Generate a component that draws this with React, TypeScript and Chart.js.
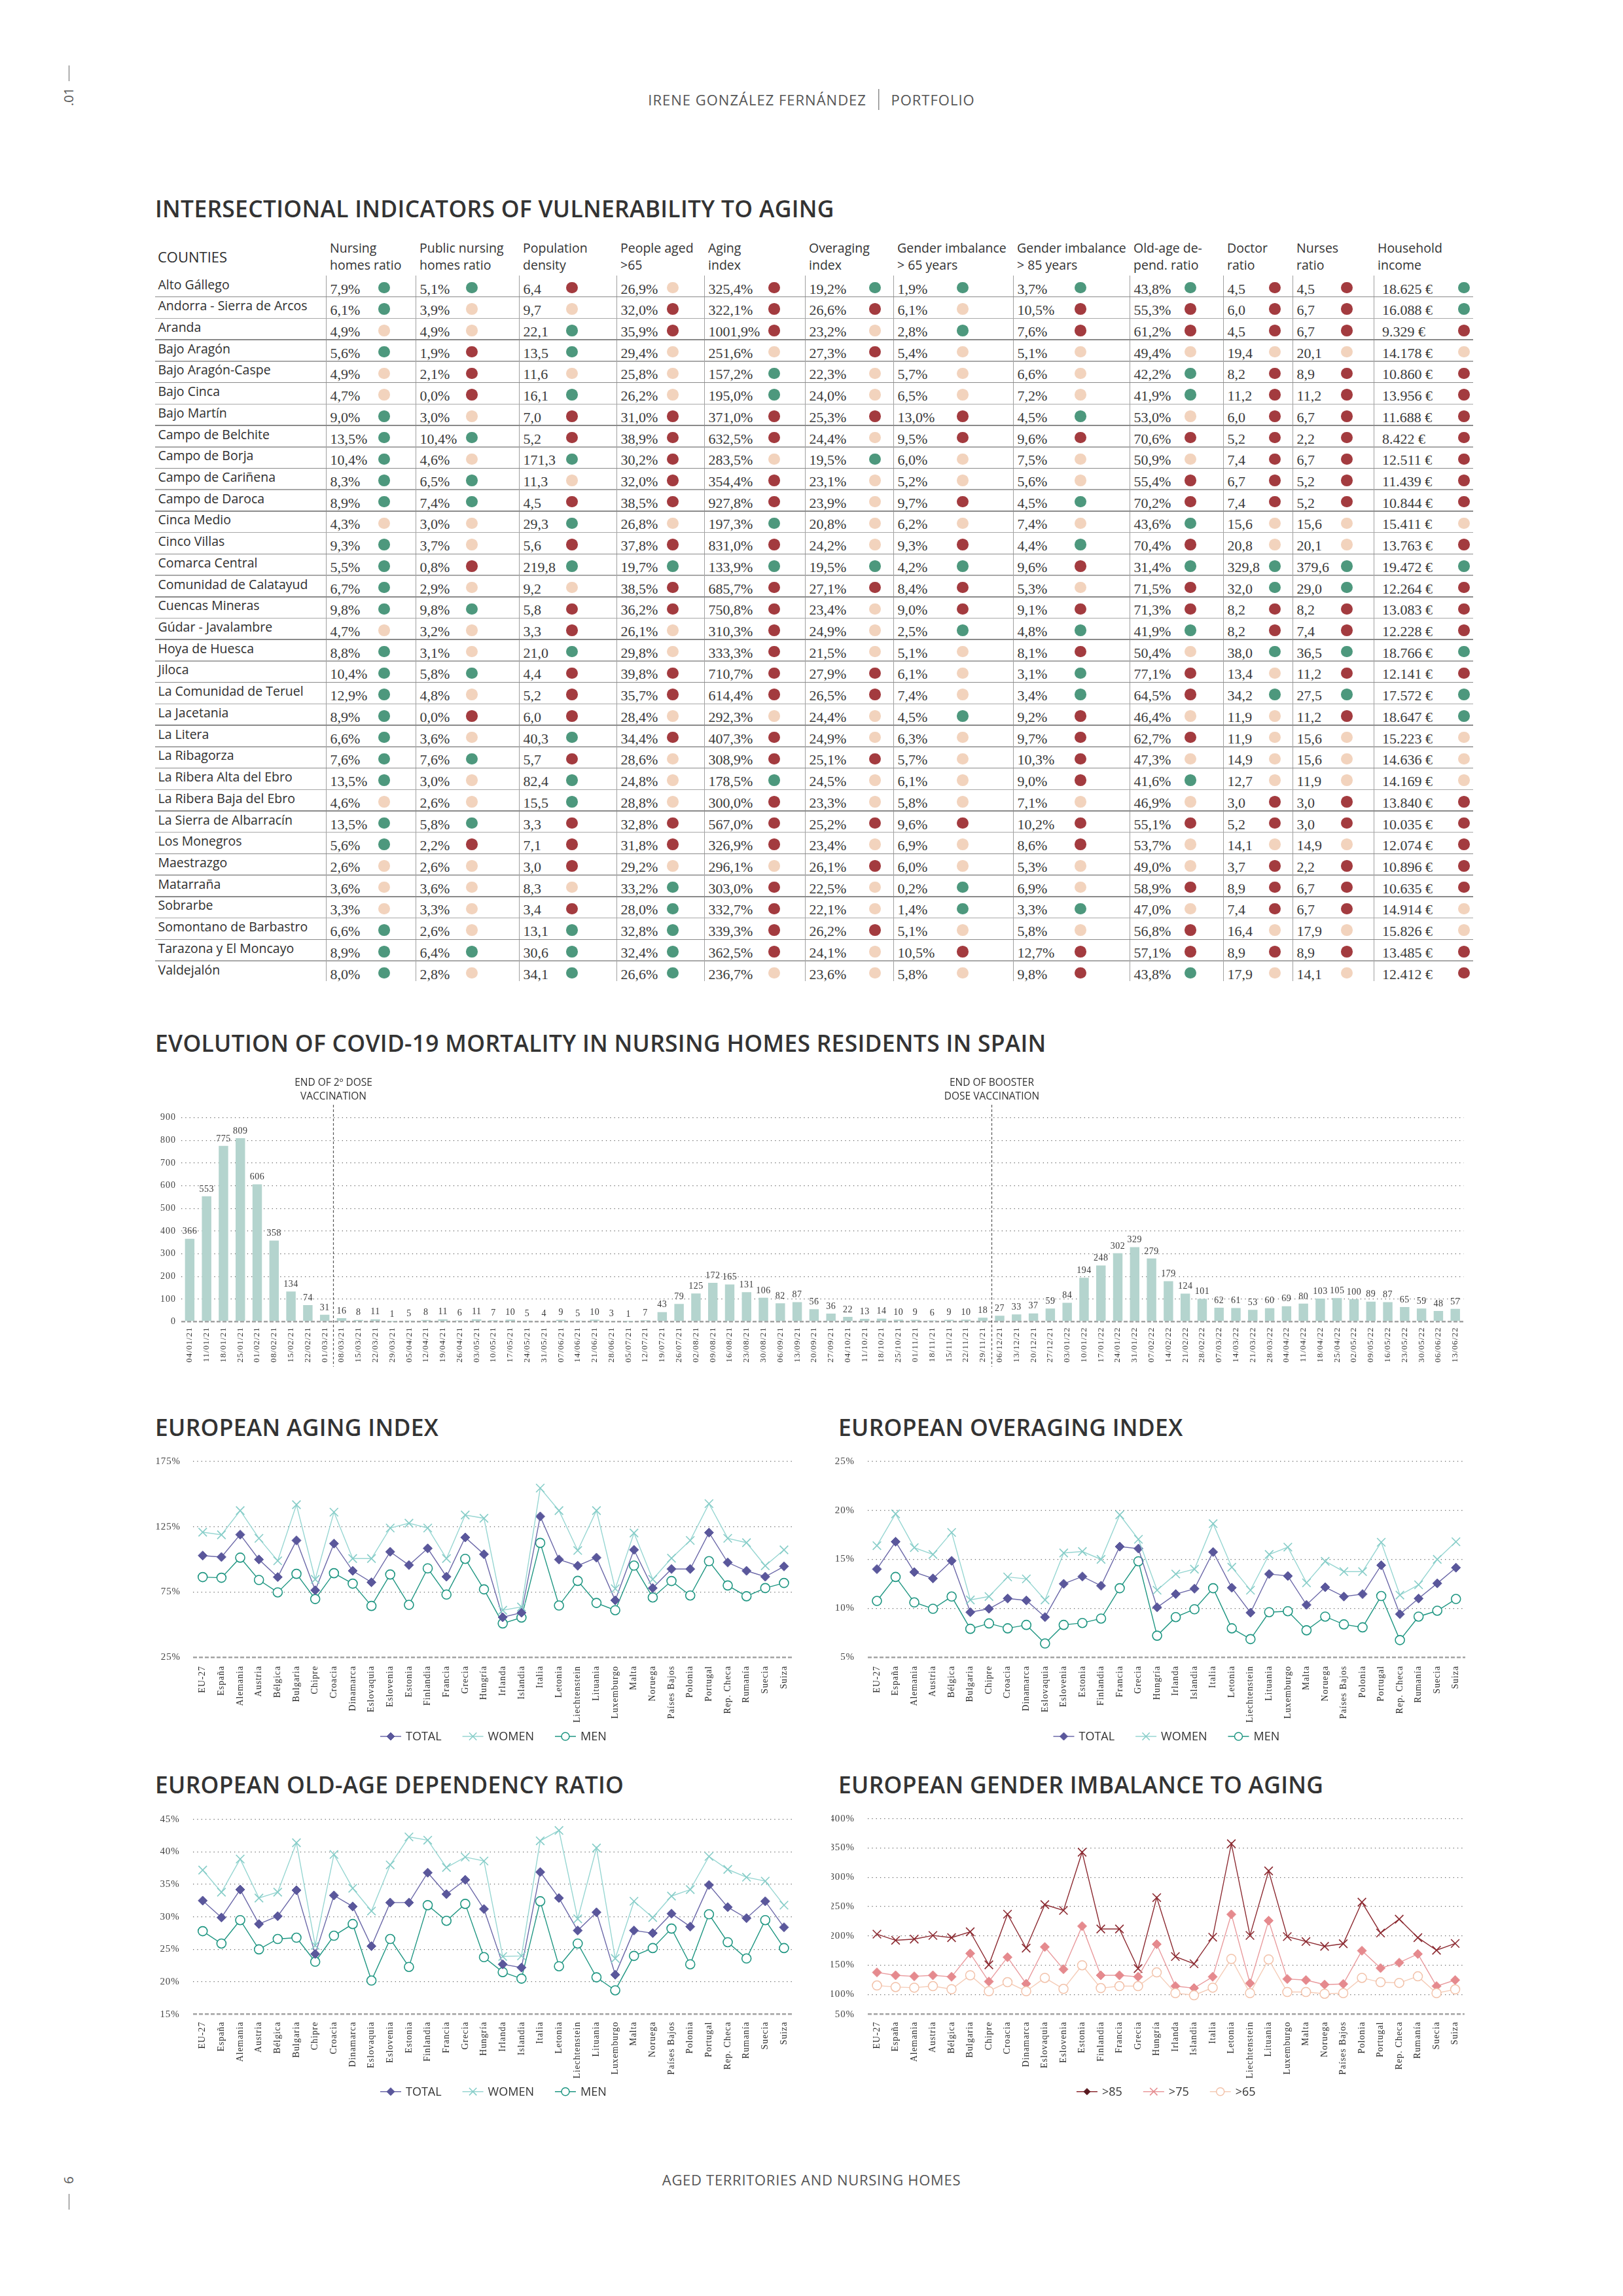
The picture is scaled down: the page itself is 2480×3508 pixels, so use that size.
import React, { useEffect, useRef } from "react";
import { Chart, registerables } from "chart.js";

Chart.register(...registerables);

const SERIF = "'Liberation Serif', 'Times New Roman', serif";
const SANS = "'Open Sans', 'Noto Sans', sans-serif";

// ---------------- TABLE DATA ----------------
const counties = [
  "Alto Gállego", "Andorra - Sierra de Arcos", "Aranda", "Bajo Aragón", "Bajo Aragón-Caspe", "Bajo Cinca",
  "Bajo Martín", "Campo de Belchite", "Campo de Borja", "Campo de Cariñena", "Campo de Daroca", "Cinca Medio",
  "Cinco Villas", "Comarca Central", "Comunidad de Calatayud", "Cuencas Mineras", "Gúdar - Javalambre",
  "Hoya de Huesca", "Jiloca", "La Comunidad de Teruel", "La Jacetania", "La Litera", "La Ribagorza",
  "La Ribera Alta del Ebro", "La Ribera Baja del Ebro", "La Sierra de Albarracín", "Los Monegros", "Maestrazgo",
  "Matarraña", "Sobrarbe", "Somontano de Barbastro", "Tarazona y El Moncayo", "Valdejalón",
];
const nursingHomesRatio = ["7,9%", "6,1%", "4,9%", "5,6%", "4,9%", "4,7%", "9,0%", "13,5%", "10,4%", "8,3%", "8,9%", "4,3%", "9,3%", "5,5%", "6,7%", "9,8%", "4,7%", "8,8%", "10,4%", "12,9%", "8,9%", "6,6%", "7,6%", "13,5%", "4,6%", "13,5%", "5,6%", "2,6%", "3,6%", "3,3%", "6,6%", "8,9%", "8,0%"];
const nursingHomesRatioLv = "GGBGBBGGGGGBGGGGBGGGGGGGBGGBBBGGG";
const publicNursingRatio = ["5,1%", "3,9%", "4,9%", "1,9%", "2,1%", "0,0%", "3,0%", "10,4%", "4,6%", "6,5%", "7,4%", "3,0%", "3,7%", "0,8%", "2,9%", "9,8%", "3,2%", "3,1%", "5,8%", "4,8%", "0,0%", "3,6%", "7,6%", "3,0%", "2,6%", "5,8%", "2,2%", "2,6%", "3,6%", "3,3%", "2,6%", "6,4%", "2,8%"];
const publicNursingRatioLv = "GBBRRRBGBGGBBRBGBBGBRBGBBGRBBBBGB";
const populationDensity = ["6,4", "9,7", "22,1", "13,5", "11,6", "16,1", "7,0", "5,2", "171,3", "11,3", "4,5", "29,3", "5,6", "219,8", "9,2", "5,8", "3,3", "21,0", "4,4", "5,2", "6,0", "40,3", "5,7", "82,4", "15,5", "3,3", "7,1", "3,0", "8,3", "3,4", "13,1", "30,6", "34,1"];
const populationDensityLv = "RBGGBGRRGBRGRGBRRGRRRGRGGRRRBRGGG";
const peopleOver65 = ["26,9%", "32,0%", "35,9%", "29,4%", "25,8%", "26,2%", "31,0%", "38,9%", "30,2%", "32,0%", "38,5%", "26,8%", "37,8%", "19,7%", "38,5%", "36,2%", "26,1%", "29,8%", "39,8%", "35,7%", "28,4%", "34,4%", "28,6%", "24,8%", "28,8%", "32,8%", "31,8%", "29,2%", "33,2%", "28,0%", "32,8%", "32,4%", "26,6%"];
const peopleOver65Lv = "BRRBBBRRRRRBRGRRBBRRBRBBBRRBGGGGG";
const agingIndex = ["325,4%", "322,1%", "1001,9%", "251,6%", "157,2%", "195,0%", "371,0%", "632,5%", "283,5%", "354,4%", "927,8%", "197,3%", "831,0%", "133,9%", "685,7%", "750,8%", "310,3%", "333,3%", "710,7%", "614,4%", "292,3%", "407,3%", "308,9%", "178,5%", "300,0%", "567,0%", "326,9%", "296,1%", "303,0%", "332,7%", "339,3%", "362,5%", "236,7%"];
const agingIndexLv = "RRRBGGRRBRRGRGRRRRRRBRRGRRRBRRRRB";
const overagingIndex = ["19,2%", "26,6%", "23,2%", "27,3%", "22,3%", "24,0%", "25,3%", "24,4%", "19,5%", "23,1%", "23,9%", "20,8%", "24,2%", "19,5%", "27,1%", "23,4%", "24,9%", "21,5%", "27,9%", "26,5%", "24,4%", "24,9%", "25,1%", "24,5%", "23,3%", "25,2%", "23,4%", "26,1%", "22,5%", "22,1%", "26,2%", "24,1%", "23,6%"];
const overagingIndexLv = "GRBRBBRBGBBBBGRBBBRRBBRBBRBRBBRBB";
const genderOver65 = ["1,9%", "6,1%", "2,8%", "5,4%", "5,7%", "6,5%", "13,0%", "9,5%", "6,0%", "5,2%", "9,7%", "6,2%", "9,3%", "4,2%", "8,4%", "9,0%", "2,5%", "5,1%", "6,1%", "7,4%", "4,5%", "6,3%", "5,7%", "6,1%", "5,8%", "9,6%", "6,9%", "6,0%", "0,2%", "1,4%", "5,1%", "10,5%", "5,8%"];
const genderOver65Lv = "GBGBBBRRBBRBRGRRGBBBGBBBBRBBGGBRB";
const genderOver85 = ["3,7%", "10,5%", "7,6%", "5,1%", "6,6%", "7,2%", "4,5%", "9,6%", "7,5%", "5,6%", "4,5%", "7,4%", "4,4%", "9,6%", "5,3%", "9,1%", "4,8%", "8,1%", "3,1%", "3,4%", "9,2%", "9,7%", "10,3%", "9,0%", "7,1%", "10,2%", "8,6%", "5,3%", "6,9%", "3,3%", "5,8%", "12,7%", "9,8%"];
const genderOver85Lv = "GRRBBBGRBBGBGRBRGRGGRRRRBRRBBGBRR";
const oldAgeDependency = ["43,8%", "55,3%", "61,2%", "49,4%", "42,2%", "41,9%", "53,0%", "70,6%", "50,9%", "55,4%", "70,2%", "43,6%", "70,4%", "31,4%", "71,5%", "71,3%", "41,9%", "50,4%", "77,1%", "64,5%", "46,4%", "62,7%", "47,3%", "41,6%", "46,9%", "55,1%", "53,7%", "49,0%", "58,9%", "47,0%", "56,8%", "57,1%", "43,8%"];
const oldAgeDependencyLv = "GRRBGGBRBRRGRGRRGBRRBRBGBRBBRBRRG";
const doctorRatio = ["4,5", "6,0", "4,5", "19,4", "8,2", "11,2", "6,0", "5,2", "7,4", "6,7", "7,4", "15,6", "20,8", "329,8", "32,0", "8,2", "8,2", "38,0", "13,4", "34,2", "11,9", "11,9", "14,9", "12,7", "3,0", "5,2", "14,1", "3,7", "8,9", "7,4", "16,4", "8,9", "17,9"];
const doctorRatioLv = "RRRBRRRRRRRBBGGRRGBGBBBBRRBRRRBRB";
const nursesRatio = ["4,5", "6,7", "6,7", "20,1", "8,9", "11,2", "6,7", "2,2", "6,7", "5,2", "5,2", "15,6", "20,1", "379,6", "29,0", "8,2", "7,4", "36,5", "11,2", "27,5", "11,2", "15,6", "15,6", "11,9", "3,0", "3,0", "14,9", "2,2", "6,7", "6,7", "17,9", "8,9", "14,1"];
const nursesRatioLv = "RRRBRRRRRRRBBGGRRGRGRBBBRRBRRRBRB";
const householdIncome = ["18.625 €", "16.088 €", "9.329 €", "14.178 €", "10.860 €", "13.956 €", "11.688 €", "8.422 €", "12.511 €", "11.439 €", "10.844 €", "15.411 €", "13.763 €", "19.472 €", "12.264 €", "13.083 €", "12.228 €", "18.766 €", "12.141 €", "17.572 €", "18.647 €", "15.223 €", "14.636 €", "14.169 €", "13.840 €", "10.035 €", "12.074 €", "10.896 €", "10.635 €", "14.914 €", "15.826 €", "13.485 €", "12.412 €"];
const householdIncomeLv = "GGRBRRRRRRRBRGRRRGRGGBBBRRRRRBBRR";

const tableColumns = [
  { head: ["Nursing", "homes ratio"], values: nursingHomesRatio, levels: nursingHomesRatioLv },
  { head: ["Public nursing", "homes ratio"], values: publicNursingRatio, levels: publicNursingRatioLv },
  { head: ["Population", "density"], values: populationDensity, levels: populationDensityLv },
  { head: ["People aged", ">65"], values: peopleOver65, levels: peopleOver65Lv },
  { head: ["Aging", "index"], values: agingIndex, levels: agingIndexLv },
  { head: ["Overaging", "index"], values: overagingIndex, levels: overagingIndexLv },
  { head: ["Gender imbalance", "> 65 years"], values: genderOver65, levels: genderOver65Lv },
  { head: ["Gender imbalance", "> 85 years"], values: genderOver85, levels: genderOver85Lv },
  { head: ["Old-age de-", "pend. ratio"], values: oldAgeDependency, levels: oldAgeDependencyLv },
  { head: ["Doctor", "ratio"], values: doctorRatio, levels: doctorRatioLv },
  { head: ["Nurses", "ratio"], values: nursesRatio, levels: nursesRatioLv },
  { head: ["Household", "income"], values: householdIncome, levels: householdIncomeLv },
];

// ---------------- BAR CHART DATA ----------------
const weekLabels = [
  "04/01/21", "11/01/21", "18/01/21", "25/01/21", "01/02/21", "08/02/21", "15/02/21", "22/02/21", "01/03/21",
  "08/03/21", "15/03/21", "22/03/21", "29/03/21", "05/04/21", "12/04/21", "19/04/21", "26/04/21", "03/05/21",
  "10/05/21", "17/05/21", "24/05/21", "31/05/21", "07/06/21", "14/06/21", "21/06/21", "28/06/21", "05/07/21",
  "12/07/21", "19/07/21", "26/07/21", "02/08/21", "09/08/21", "16/08/21", "23/08/21", "30/08/21", "06/09/21",
  "13/09/21", "20/09/21", "27/09/21", "04/10/21", "11/10/21", "18/10/21", "25/10/21", "01/11/21", "18/11/21",
  "15/11/21", "22/11/21", "29/11/21", "06/12/21", "13/12/21", "20/12/21", "27/12/21", "03/01/22", "10/01/22",
  "17/01/22", "24/01/22", "31/01/22", "07/02/22", "14/02/22", "21/02/22", "28/02/22", "07/03/22", "14/03/22",
  "21/03/22", "28/03/22", "04/04/22", "11/04/22", "18/04/22", "25/04/22", "02/05/22", "09/05/22", "16/05/22",
  "23/05/22", "30/05/22", "06/06/22", "13/06/22",
];
const weeklyDeaths = [
  366, 553, 775, 809, 606, 358, 134, 74, 31,
  16, 8, 11, 1, 5, 8, 11, 6, 11,
  7, 10, 5, 4, 9, 5, 10, 3, 1,
  7, 43, 79, 125, 172, 165, 131, 106, 82,
  87, 56, 36, 22, 13, 14, 10, 9, 6,
  9, 10, 18, 27, 33, 37, 59, 84, 194,
  248, 302, 329, 279, 179, 124, 101, 62, 61,
  53, 60, 69, 80, 103, 105, 100, 89, 87,
  65, 59, 48, 57,
];
const vaccinationMarks = [
  { after: "01/03/21", text: ["END OF 2º DOSE", "VACCINATION"] },
  { after: "29/11/21", text: ["END OF BOOSTER", "DOSE VACCINATION"] },
];

// ---------------- LINE CHART DATA ----------------
const countries = [
  "EU-27", "España", "Alemania", "Austria", "Bélgica", "Bulgaria", "Chipre", "Croacia", "Dinamarca", "Eslovaquia",
  "Eslovenia", "Estonia", "Finlandia", "Francia", "Grecia", "Hungría", "Irlanda", "Islandia", "Italia", "Letonia",
  "Liechtenstein", "Lituania", "Luxemburgo", "Malta", "Noruega", "Países Bajos", "Polonia", "Portugal",
  "Rep. Checa", "Rumanía", "Suecia", "Suiza",
];
const agingTotal = [102.9, 101.8, 119, 99.9, 86.4, 114.5, 76.3, 112.1, 91.2, 82.4, 105.8, 95.6, 108.4, 86.7, 116.8, 103.9, 55.6, 59.1, 132.9, 99.9, 95.1, 101.3, 68.6, 107.3, 78, 92.6, 92.6, 120.5, 97.6, 91.2, 86.7, 94.6];
const agingWomen = [120.8, 118.8, 137.4, 116.1, 98.9, 141.9, 84.7, 136.2, 100.6, 100.6, 124, 127.7, 124, 100.6, 134, 131.5, 61, 63.5, 154.6, 137.4, 106.8, 137.4, 77.5, 120.2, 84.7, 100.9, 114.5, 142.7, 116.1, 112.8, 95.1, 107.3];
const agingMen = [86.4, 85.9, 101.3, 84.2, 74.7, 88.9, 69.6, 89.4, 81.4, 64.3, 88.4, 65.1, 93.1, 73, 100.4, 77, 50.9, 55.4, 112.6, 64.6, 83.5, 66.6, 61, 95.2, 70.8, 83.4, 72.3, 98.6, 80, 71.7, 78, 81.9];

const overagingTotal = [14.0, 16.8, 13.7, 13.05, 14.85, 9.6, 9.95, 11.0, 10.8, 9.1, 12.5, 13.25, 12.3, 16.3, 16.1, 10.1, 11.45, 12.0, 15.75, 12.1, 9.55, 13.5, 13.3, 10.35, 12.15, 11.2, 11.45, 14.4, 9.4, 11.0, 12.55, 14.15];
const overagingWomen = [16.4, 19.65, 16.2, 15.5, 17.75, 10.85, 11.2, 13.2, 13.0, 10.85, 15.65, 15.8, 15.0, 19.55, 17.05, 11.85, 13.5, 14.0, 18.65, 14.2, 11.85, 15.5, 16.25, 12.6, 14.8, 13.75, 13.75, 16.75, 11.35, 12.4, 15.0, 16.8];
const overagingMen = [10.75, 13.2, 10.6, 9.95, 11.2, 7.9, 8.45, 7.95, 8.3, 6.4, 8.3, 8.5, 8.95, 12.05, 14.8, 7.2, 9.1, 9.9, 12.05, 7.95, 6.85, 9.6, 9.7, 7.75, 9.15, 8.35, 8.05, 11.25, 6.75, 9.15, 9.75, 10.95];

const oldAgeTotal = [32.5, 29.9, 34.2, 28.9, 30.1, 34.1, 24.3, 33.3, 31.6, 25.5, 32.2, 32.2, 36.8, 33.5, 35.7, 31.2, 22.7, 22.2, 36.9, 32.9, 27.9, 30.7, 21.1, 27.9, 27.5, 30.5, 28.5, 34.9, 31.5, 29.8, 32.4, 28.4];
const oldAgeWomen = [37.2, 33.8, 38.9, 32.9, 33.8, 41.4, 25.6, 39.6, 34.4, 30.9, 38.0, 42.3, 41.8, 37.6, 39.2, 38.6, 23.9, 24.0, 41.7, 43.3, 29.7, 40.6, 23.6, 32.4, 29.9, 33.2, 34.2, 39.3, 37.3, 36.1, 35.5, 31.8];
const oldAgeMen = [27.8, 25.9, 29.5, 25.0, 26.6, 26.8, 23.1, 27.1, 28.9, 20.2, 26.6, 22.3, 31.8, 29.4, 32.0, 23.8, 21.5, 20.5, 32.4, 22.4, 25.9, 20.7, 18.7, 24.0, 25.2, 28.2, 22.7, 30.4, 26.1, 23.6, 29.5, 25.2];

const genderOver85Eu = [202.9, 192.4, 194.4, 200.7, 197, 207, 150.6, 237, 179.1, 253.4, 243.4, 342.8, 211.8, 211.8, 144.2, 265.3, 164.7, 152.4, 197.7, 357.3, 200.7, 310.9, 198.8, 190.3, 182.1, 186.6, 257.5, 204.9, 228.5, 197, 175.4, 187];
const genderOver75Eu = [137.6, 132.7, 130.9, 132.7, 130.1, 169.9, 122, 163.6, 118.3, 181, 143.1, 216.6, 132.7, 132.7, 130.1, 185.8, 114.2, 110.8, 130.1, 236.7, 119, 225.9, 126.4, 124.6, 116.8, 117.9, 174.7, 145, 154.3, 169.1, 114.2, 124.6];
const genderOver65Eu = [115.3, 112.7, 111.6, 114.2, 109, 132.7, 105.6, 120.9, 105.6, 128.3, 109.4, 149.8, 110.8, 114.2, 114.2, 137.6, 102.3, 98.6, 111.6, 160.6, 102.3, 159.8, 104.2, 104.2, 101.2, 102.3, 128.3, 120.9, 119.7, 130.9, 102.3, 108.6];
// gender axis is broken below 100%: the "50%" label sits at this floor value
const genderTickLabels = [50, 100, 150, 200, 250, 300, 350, 400];
const genderAxisFloor = 66;

// ---------------- helpers ----------------
const LV_COLORS: Record<string, string> = { G: "#4d987d", R: "#a33b3f", B: "#f2d3bd" };

function gridFor(bottomValue: number) {
  return {
    grid: {
      drawTicks: false,
      color: (c: any) => (c.tick && c.tick.value === bottomValue ? "#a3a3a3" : "#6c6c6c"),
      lineWidth: (c: any) => (c.tick && c.tick.value === bottomValue ? 2.6 : 1.3),
    },
    border: {
      display: false,
      dash: (c: any) => (c.tick && c.tick.value === bottomValue ? [6, 3] : [1.3, 5]),
    },
  };
}

function spacingPlugin(px: string) {
  return {
    id: "spacing",
    beforeDraw(chart: any) {
      chart.ctx.letterSpacing = px;
    },
  };
}

function drawMarker(ctx: CanvasRenderingContext2D, style: string, x: number, y: number, r: number, fill: string, stroke: string, lw: number) {
  ctx.save();
  ctx.letterSpacing = "0px";
  ctx.beginPath();
  ctx.lineWidth = lw;
  ctx.strokeStyle = stroke;
  ctx.fillStyle = fill;
  if (style === "circle") {
    ctx.arc(x, y, r, 0, Math.PI * 2);
    ctx.fill();
    ctx.stroke();
  } else if (style === "rectRot") {
    ctx.moveTo(x - r, y);
    ctx.lineTo(x, y - r);
    ctx.lineTo(x + r, y);
    ctx.lineTo(x, y + r);
    ctx.closePath();
    ctx.fill();
    ctx.stroke();
  } else {
    const d = r * Math.SQRT1_2;
    ctx.moveTo(x - d, y - d);
    ctx.lineTo(x + d, y + d);
    ctx.moveTo(x + d, y - d);
    ctx.lineTo(x - d, y + d);
    ctx.stroke();
  }
  ctx.restore();
}

type LegendItem = { label: string; line: string; marker: string; r: number; fill: string; stroke: string; lw: number };

function legendPlugin(items: LegendItem[], y: number) {
  return {
    id: "lineLegend",
    afterDraw(chart: any) {
      const ctx: CanvasRenderingContext2D = chart.ctx;
      ctx.save();
      ctx.letterSpacing = "0px";
      ctx.font = `18px ${SANS}`;
      const lineLen = 32, textGap = 7, itemGap = 32;
      const widths = items.map((it) => lineLen + textGap + ctx.measureText(it.label).width);
      const total = widths.reduce((a, b) => a + b, 0) + itemGap * (items.length - 1);
      let x = (chart.chartArea.left + chart.chartArea.right) / 2 - total / 2;
      items.forEach((it, i) => {
        ctx.beginPath();
        ctx.strokeStyle = it.line;
        ctx.lineWidth = 1.6;
        ctx.moveTo(x, y);
        ctx.lineTo(x + lineLen, y);
        ctx.stroke();
        drawMarker(ctx, it.marker, x + lineLen / 2, y, it.r, it.fill, it.stroke, it.lw);
        ctx.fillStyle = "#333";
        ctx.textAlign = "left";
        ctx.textBaseline = "middle";
        ctx.fillText(it.label, x + lineLen + textGap, y + 1);
        x += widths[i] + itemGap;
      });
      ctx.restore();
    },
  };
}

function ChartCanvas({ left, top, width, height, make }: { left: number; top: number; width: number; height: number; make: () => any }) {
  const ref = useRef<HTMLCanvasElement>(null);
  useEffect(() => {
    const chart = new Chart(ref.current as HTMLCanvasElement, make());
    return () => chart.destroy();
  }, []);
  return (
    <canvas
      ref={ref}
      width={width}
      height={height}
      style={{ position: "absolute", left, top, width, height, display: "block" }}
    />
  );
}

// ---------------- BAR CHART ----------------
function barConfig() {
  const boxW = 2020, boxH = 470;
  const area = { left: 47, right: 2006.6, top: 77.5, bottom: 389.6 };
  const valuePlugin = {
    id: "barValues",
    afterDatasetsDraw(chart: any) {
      const ctx: CanvasRenderingContext2D = chart.ctx;
      const meta = chart.getDatasetMeta(0);
      ctx.save();
      ctx.letterSpacing = "0.5px";
      ctx.font = `14px ${SERIF}`;
      ctx.fillStyle = "#3a3a3a";
      ctx.textAlign = "center";
      ctx.textBaseline = "bottom";
      meta.data.forEach((el: any, i: number) => {
        ctx.fillText(String(weeklyDeaths[i]), el.x, el.y - 4);
      });
      ctx.restore();
    },
  };
  const marksPlugin = {
    id: "vaccinationMarks",
    afterDraw(chart: any) {
      const ctx: CanvasRenderingContext2D = chart.ctx;
      const xs = chart.scales.x;
      ctx.save();
      ctx.letterSpacing = "0px";
      vaccinationMarks.forEach((m) => {
        const i = weekLabels.indexOf(m.after);
        const x = Math.round((xs.getPixelForValue(i) + xs.getPixelForValue(i + 1)) / 2) + 0.5;
        ctx.beginPath();
        ctx.setLineDash([4, 3]);
        ctx.strokeStyle = "#555";
        ctx.lineWidth = 1.2;
        ctx.moveTo(x, 58);
        ctx.lineTo(x, 458);
        ctx.stroke();
        ctx.setLineDash([]);
        ctx.font = `15.5px ${SANS}`;
        ctx.fillStyle = "#333";
        ctx.textAlign = "center";
        ctx.textBaseline = "middle";
        ctx.fillText(m.text[0], x, 24.6);
        ctx.fillText(m.text[1], x, 45.4);
      });
      ctx.restore();
    },
  };
  return {
    type: "bar",
    data: {
      labels: weekLabels,
      datasets: [
        { data: weeklyDeaths, backgroundColor: "#b4d4ce", barPercentage: 0.56, categoryPercentage: 1 },
      ],
    },
    options: {
      responsive: false,
      animation: false,
      devicePixelRatio: 1,
      layout: { padding: { top: area.top, right: boxW - area.right, bottom: 0, left: 0 } },
      plugins: { legend: { display: false }, tooltip: { enabled: false } },
      scales: {
        x: {
          grid: { display: false, drawTicks: false },
          border: { display: false },
          ticks: {
            autoSkip: false,
            minRotation: 90,
            maxRotation: 90,
            padding: 8,
            color: "#333",
            font: { family: SERIF, size: 13 },
          },
          afterFit: (s: any) => {
            s.height = boxH - area.bottom;
            s.paddingLeft = 0;
            s.paddingRight = 0;
          },
        },
        y: {
          min: 0,
          max: 900,
          ticks: { stepSize: 100, padding: 8, color: "#444", font: { family: SERIF, size: 14 } },
          afterFit: (s: any) => {
            s.width = area.left;
          },
          ...gridFor(0),
        },
      },
    },
    plugins: [spacingPlugin("1px"), valuePlugin, marksPlugin],
  };
}

// ---------------- LINE CHARTS ----------------
type Series = { label: string; data: number[]; line: string; color: string; fill: string; marker: string; r: number; pw: number };

function lineConfig(opts: {
  w: number;
  h: number;
  area: { left: number; right: number; top: number; bottom: number };
  yMin: number;
  yMax: number;
  yStep?: number;
  yPad: number;
  xPad: number;
  custom?: boolean;
  series: Series[];
  legend: LegendItem[];
  legendY: number;
}) {
  const { w, h, area } = opts;
  const yScale: any = {
    min: opts.yMin,
    max: opts.yMax,
    ticks: {
      stepSize: opts.yStep,
      padding: opts.yPad,
      color: "#444",
      font: { family: SERIF, size: 15 },
      callback: (v: any, i: number) => (opts.custom ? genderTickLabels[i] + "%" : v + "%"),
    },
    afterFit: (s: any) => {
      s.width = area.left;
    },
    ...gridFor(opts.yMin),
  };
  if (opts.custom) {
    yScale.afterBuildTicks = (s: any) => {
      s.ticks = genderTickLabels.map((v) => ({ value: v < 100 ? genderAxisFloor : v }));
    };
  }
  return {
    type: "line",
    data: {
      labels: countries,
      datasets: opts.series.map((d) => ({
        label: d.label,
        data: d.data,
        borderColor: d.line,
        borderWidth: 1.4,
        pointStyle: d.marker,
        pointRadius: d.r,
        pointBorderColor: d.color,
        pointBackgroundColor: d.fill,
        pointBorderWidth: d.pw,
        fill: false,
        tension: 0,
      })),
    },
    options: {
      responsive: false,
      animation: false,
      devicePixelRatio: 1,
      layout: { padding: { top: area.top, right: w - area.right, bottom: 0, left: 0 } },
      plugins: { legend: { display: false }, tooltip: { enabled: false } },
      scales: {
        x: {
          offset: true,
          grid: { display: false, drawTicks: false },
          border: { display: false },
          ticks: {
            autoSkip: false,
            minRotation: 90,
            maxRotation: 90,
            padding: opts.xPad,
            color: "#2f2f2f",
            font: { family: SERIF, size: 14 },
          },
          afterFit: (s: any) => {
            s.height = h - area.bottom;
            s.paddingLeft = 0;
            s.paddingRight = 0;
          },
        },
        y: yScale,
      },
    },
    plugins: [spacingPlugin("0.9px"), legendPlugin(opts.legend, opts.legendY)],
  };
}

const TOTAL_STYLE = { line: "#6b68a8", color: "#5a579b", fill: "#5a579b", marker: "rectRot", r: 7, pw: 1 };
const WOMEN_STYLE = { line: "#97d6d2", color: "#86cdc8", fill: "#86cdc8", marker: "crossRot", r: 9, pw: 1.6 };
const MEN_STYLE = { line: "#1f9682", color: "#1f9682", fill: "#ffffff", marker: "circle", r: 7, pw: 1.6 };

const sexLegend: LegendItem[] = [
  { label: "TOTAL", line: TOTAL_STYLE.line, marker: "rectRot", r: 6, fill: TOTAL_STYLE.fill, stroke: TOTAL_STYLE.color, lw: 1 },
  { label: "WOMEN", line: WOMEN_STYLE.line, marker: "crossRot", r: 8, fill: WOMEN_STYLE.fill, stroke: WOMEN_STYLE.color, lw: 1.5 },
  { label: "MEN", line: MEN_STYLE.line, marker: "circle", r: 6, fill: "#ffffff", stroke: MEN_STYLE.color, lw: 1.5 },
];

function sexSeries(total: number[], women: number[], men: number[]): Series[] {
  return [
    { label: "WOMEN", data: women, ...WOMEN_STYLE },
    { label: "TOTAL", data: total, ...TOTAL_STYLE },
    { label: "MEN", data: men, ...MEN_STYLE },
  ];
}

const agingCfg = () =>
  lineConfig({
    w: 1000, h: 480, area: { left: 65.4, right: 982.3, top: 33, bottom: 332 },
    yMin: 25, yMax: 175, yStep: 50, yPad: 19.4, xPad: 13,
    series: sexSeries(agingTotal, agingWomen, agingMen), legend: sexLegend, legendY: 453,
  });
const overagingCfg = () =>
  lineConfig({
    w: 1000, h: 480, area: { left: 55.7, right: 969, top: 33, bottom: 332 },
    yMin: 5, yMax: 25, yStep: 5, yPad: 19.7, xPad: 13,
    series: sexSeries(overagingTotal, overagingWomen, overagingMen), legend: sexLegend, legendY: 453,
  });
const oldAgeCfg = () =>
  lineConfig({
    w: 1000, h: 480, area: { left: 65.4, right: 982.3, top: 27.7, bottom: 327.7 },
    yMin: 15, yMax: 45, yStep: 5, yPad: 20.8, xPad: 11,
    series: sexSeries(oldAgeTotal, oldAgeWomen, oldAgeMen), legend: sexLegend, legendY: 445.7,
  });
const genderCfg = () =>
  lineConfig({
    w: 1000, h: 480, area: { left: 55.75, right: 967.8, top: 27.7, bottom: 327.7 },
    yMin: genderAxisFloor, yMax: 400, yPad: 19.75, xPad: 11, custom: true,
    series: [
      { label: ">65", data: genderOver65Eu, line: "#f5ccb7", color: "#f2c2aa", fill: "#ffffff", marker: "circle", r: 7, pw: 1.5 },
      { label: ">75", data: genderOver75Eu, line: "#e99a9d", color: "#e58a8e", fill: "#e58a8e", marker: "rectRot", r: 7, pw: 1 },
      { label: ">85", data: genderOver85Eu, line: "#8c2a31", color: "#8c2a31", fill: "#8c2a31", marker: "crossRot", r: 9, pw: 1.6 },
    ],
    legend: [
      { label: ">85", line: "#8c2a31", marker: "rectRot", r: 5, fill: "#5a1a20", stroke: "#5a1a20", lw: 1 },
      { label: ">75", line: "#e99a9d", marker: "crossRot", r: 8, fill: "#e58a8e", stroke: "#e58a8e", lw: 1.5 },
      { label: ">65", line: "#f5ccb7", marker: "circle", r: 6, fill: "#ffffff", stroke: "#f2c2aa", lw: 1.5 },
    ],
    legendY: 445.7,
  });

// ---------------- PAGE PIECES ----------------
function T({ x, y, children, style }: { x: number; y: number; children: any; style?: any }) {
  return (
    <div
      style={{
        position: "absolute",
        left: x,
        top: y,
        transform: "translateY(-50%)",
        whiteSpace: "nowrap",
        lineHeight: 1.2,
        ...style,
      }}
    >
      {children}
    </div>
  );
}

const TITLE_STYLE = { fontFamily: SANS, fontWeight: 600, fontSize: 35.4, color: "#333", letterSpacing: "0.3px" };

const COL_X = [498, 635, 793, 942, 1076, 1230, 1365, 1548, 1726, 1869, 1975, 2099];
const DOT_DX = [89, 86, 81, 86, 107, 107, 106, 103, 93, 79, 83, 138];
const ROW_TOP = 421;
const ROW_H = 32.72;
const TABLE_LEFT = 237;
const TABLE_RIGHT = 2251;

function Table() {
  const els: any[] = [];
  els.push(
    <T key="hc" x={241} y={392} style={{ fontFamily: SANS, fontSize: 22, color: "#2e2e2e" }}>
      COUNTIES
    </T>
  );
  tableColumns.forEach((c, j) => {
    els.push(
      <T key={"h1" + j} x={COL_X[j] + 6} y={379} style={{ fontFamily: SANS, fontSize: 19.5, color: "#333" }}>
        {c.head[0]}
      </T>
    );
    els.push(
      <T key={"h2" + j} x={COL_X[j] + 6} y={404.5} style={{ fontFamily: SANS, fontSize: 19.5, color: "#333" }}>
        {c.head[1]}
      </T>
    );
    els.push(
      <div
        key={"vl" + j}
        style={{ position: "absolute", left: COL_X[j], top: ROW_TOP, width: 1.3, height: ROW_H * counties.length - 2, background: "#a0a0a0" }}
      />
    );
  });
  counties.forEach((name, r) => {
    const top = ROW_TOP + r * ROW_H;
    if (r > 0) {
      els.push(
        <div
          key={"hl" + r}
          style={{ position: "absolute", left: TABLE_LEFT, top: top - 0.75, width: TABLE_RIGHT - TABLE_LEFT, height: 1.5, background: r % 2 ? "#8a8a8a" : "#a8a8a8" }}
        />
      );
    }
    els.push(
      <T key={"n" + r} x={241.5} y={top + 13.5} style={{ fontFamily: SANS, fontSize: 19.5, color: "#2f2f2f" }}>
        {name}
      </T>
    );
    tableColumns.forEach((c, j) => {
      els.push(
        <T key={"v" + r + "_" + j} x={COL_X[j] + (j === 11 ? 13 : 6.5)} y={top + 20.5} style={{ fontFamily: SERIF, fontSize: 22, color: "#3b3b3b" }}>
          {c.values[r]}
        </T>
      );
      els.push(
        <div
          key={"d" + r + "_" + j}
          style={{
            position: "absolute",
            left: COL_X[j] + DOT_DX[j] - 8.75,
            top: top + 18.5 - 8.75,
            width: 17.5,
            height: 17.5,
            borderRadius: "50%",
            background: LV_COLORS[c.levels[r]],
          }}
        />
      );
    });
  });
  return <>{els}</>;
}

export default function App() {
  useEffect(() => {
    Chart.defaults.font.family = SERIF;
  }, []);
  const headerText = { fontFamily: SANS, fontSize: 22, color: "#555", letterSpacing: "1px" };
  return (
    <div
      style={{
        position: "absolute",
        left: 0,
        top: 0,
        width: 2480,
        height: 3508,
        background: "#fff",
        overflow: "hidden",
      }}
    >
      {/* page header */}
      <div style={{ position: "absolute", left: 104.5, top: 100, width: 1.5, height: 24, background: "#666" }} />
      <div
        style={{
          position: "absolute",
          left: 105,
          top: 148,
          transform: "translate(-50%, -50%) rotate(-90deg)",
          fontFamily: SANS,
          fontSize: 20,
          color: "#555",
          whiteSpace: "nowrap",
          lineHeight: 1,
        }}
      >
        .01
      </div>
      <div
        style={{
          position: "absolute",
          left: 1240,
          top: 152,
          transform: "translate(-50%, -50%)",
          display: "flex",
          alignItems: "center",
          whiteSpace: "nowrap",
          ...headerText,
        }}
      >
        <span>IRENE GONZÁLEZ FERNÁNDEZ</span>
        <span style={{ display: "inline-block", width: 1.5, height: 32, background: "#555", margin: "0 18px" }} />
        <span>PORTFOLIO</span>
      </div>

      {/* table */}
      <T x={237} y={318} style={TITLE_STYLE}>INTERSECTIONAL INDICATORS OF VULNERABILITY TO AGING</T>
      <Table />

      {/* bar chart */}
      <T x={237} y={1593} style={TITLE_STYLE}>EVOLUTION OF COVID-19 MORTALITY IN NURSING HOMES RESIDENTS IN SPAIN</T>
      <ChartCanvas left={230} top={1630} width={2020} height={470} make={barConfig} />

      {/* line charts */}
      <T x={237} y={2180} style={TITLE_STYLE}>EUROPEAN AGING INDEX</T>
      <T x={1281} y={2180} style={TITLE_STYLE}>EUROPEAN OVERAGING INDEX</T>
      <ChartCanvas left={230} top={2200} width={1000} height={480} make={agingCfg} />
      <ChartCanvas left={1270} top={2200} width={1000} height={480} make={overagingCfg} />

      <T x={237} y={2726} style={TITLE_STYLE}>EUROPEAN OLD-AGE DEPENDENCY RATIO</T>
      <T x={1281} y={2726} style={TITLE_STYLE}>EUROPEAN GENDER IMBALANCE TO AGING</T>
      <ChartCanvas left={230} top={2750} width={1000} height={480} make={oldAgeCfg} />
      <ChartCanvas left={1270} top={2750} width={1000} height={480} make={genderCfg} />

      {/* page footer */}
      <div
        style={{
          position: "absolute",
          left: 105,
          top: 3331,
          transform: "translate(-50%, -50%) rotate(-90deg)",
          fontFamily: SANS,
          fontSize: 20,
          color: "#555",
          lineHeight: 1,
        }}
      >
        6
      </div>
      <div style={{ position: "absolute", left: 104.5, top: 3352, width: 1.5, height: 24, background: "#666" }} />
      <div
        style={{
          position: "absolute",
          left: 1240,
          top: 3330,
          transform: "translate(-50%, -50%)",
          whiteSpace: "nowrap",
          ...headerText,
          letterSpacing: "0.7px",
        }}
      >
        AGED TERRITORIES AND NURSING HOMES
      </div>
    </div>
  );
}
